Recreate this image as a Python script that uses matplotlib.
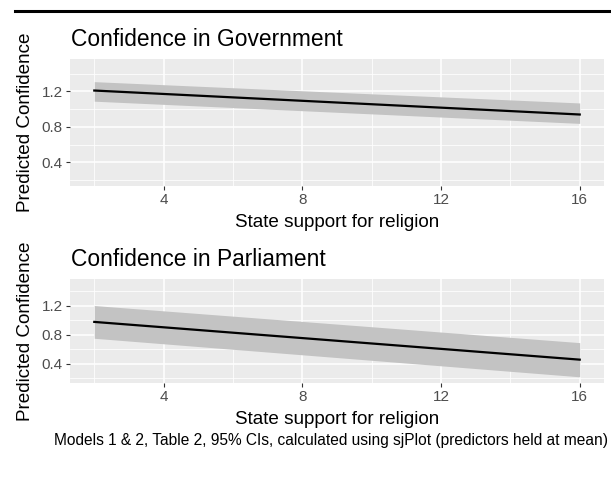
import matplotlib
matplotlib.use("Agg")
import matplotlib.pyplot as plt
from matplotlib.lines import Line2D
import numpy as np

plt.rcParams['font.family'] = ['Liberation Sans', 'DejaVu Sans']

# Data (predicted values at the ends of a linear fit)
x_support = [2, 16]
gov_fit = [1.21, 0.94]
gov_low = [1.09, 0.84]
gov_high = [1.31, 1.07]
parl_fit = [0.975, 0.456]
parl_low = [0.75, 0.22]
parl_high = [1.20, 0.69]

titles = ["Confidence in Government", "Confidence in Parliament"]
xlabel = "State support for religion"
ylabel = "Predicted Confidence"
caption = "Models 1 & 2, Table 2, 95% CIs, calculated using sjPlot (predictors held at mean)"
xticks = [4, 8, 12, 16]
xminor = [2, 6, 10, 14]
yticks = [0.4, 0.8, 1.2]
yminor = [0.2, 0.6, 1.0, 1.4]

W, H = 611, 483
fig = plt.figure(figsize=(W / 100, H / 100), dpi=100)


def fx(px):
    return px / W


def fy(py):
    return 1 - py / H


# top rule
fig.add_artist(Line2D([fx(15), fx(611)], [fy(11), fy(11)], color='black', lw=2.2,
                      transform=fig.transFigure))

panels = [
    dict(top=59, bottom=186, fit=gov_fit, low=gov_low, high=gov_high, title=titles[0],
         title_base=46, xlab_base=227),
    dict(top=279, bottom=383, fit=parl_fit, low=parl_low, high=parl_high, title=titles[1],
         title_base=266, xlab_base=424),
]

left, right = 70, 604
for p in panels:
    ax = fig.add_axes([fx(left), fy(p['bottom']), (right - left) / W,
                       (p['bottom'] - p['top']) / H])
    ax.set_facecolor('#ebebeb')
    for s in ax.spines.values():
        s.set_visible(False)
    ax.set_xlim(1.3, 16.7)
    ax.set_ylim(0.135, 1.565)
    ax.set_xticks(xticks)
    ax.set_xticks(xminor, minor=True)
    ax.set_yticks(yticks)
    ax.set_yticks(yminor, minor=True)
    ax.set_xticklabels([str(t) for t in xticks])
    ax.set_yticklabels([f"{t:.1f}" for t in yticks])
    ax.grid(which='major', color='white', lw=1.1)
    ax.grid(which='minor', color='white', lw=0.55)
    ax.set_axisbelow(True)
    ax.tick_params(which='major', length=2.6, width=0.8, color='#333333',
                   labelcolor='#4d4d4d', labelsize=11, pad=2.5)
    ax.tick_params(which='minor', length=0)
    ax.fill_between(x_support, p['low'], p['high'], color='#c3c3c3', lw=0, zorder=2)
    ax.plot(x_support, p['fit'], color='black', lw=1.6, zorder=3)
    fig.text(fx(71), fy(p['title_base']), p['title'], fontsize=16.4, ha='left',
             va='baseline', color='black')
    fig.text(fx((left + right) / 2), fy(p['xlab_base']), xlabel, fontsize=13.6,
             ha='center', va='baseline', color='black')
    fig.text(fx(25), fy((p['top'] + p['bottom']) / 2), ylabel, fontsize=13.6,
             rotation=90, ha='center', va='center', color='black')

fig.text(fx(608), fy(445), caption, fontsize=11.2, ha='right', va='baseline', color='black')

fig.savefig('out.png', dpi=100, facecolor='white')
